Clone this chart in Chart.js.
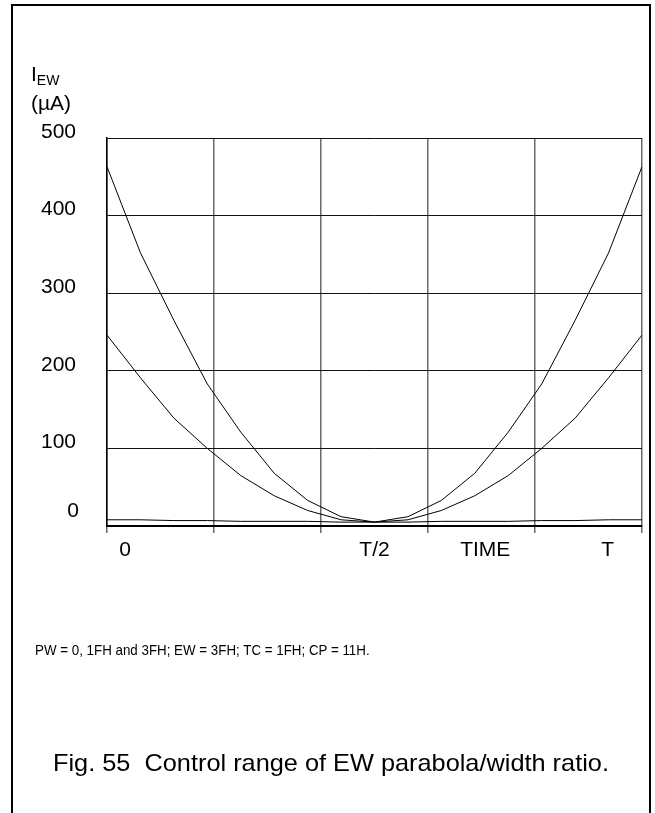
<!DOCTYPE html>
<html>
<head>
<meta charset="utf-8">
<script src="https://cdn.jsdelivr.net/npm/chart.js@4/dist/chart.umd.min.js"></script>
<style>
  html, body { margin: 0; padding: 0; background: #fff; }
  body { width: 655px; height: 813px; position: relative; overflow: hidden; font-family: "Liberation Sans", Arial, sans-serif; color: #000; }
  #frame { position: absolute; left: 11px; top: 4px; width: 640px; height: 900px; border: 2px solid #000; box-sizing: border-box; }
  #wrap { position: absolute; left: 0; top: 0; width: 655px; height: 813px; }
  .txt { position: absolute; white-space: nowrap; line-height: 1; transform-origin: 0 50%; }
  #ytitle1 { left: 31px; top: 63px; font-size: 21px; }
  #ytitle1 sub { font-size: 14px; vertical-align: baseline; position: relative; top: 4px; }
  #ytitle2 { left: 31px; top: 92px; font-size: 21px; }
  #note { left: 35px; top: 642px; font-size: 15px; transform: scaleX(0.89); }
  #caption { left: 53px; top: 751px; font-size: 24px; transform: scaleX(1.055); }
</style>
</head>
<body>
<div id="frame"></div>
<div id="wrap"><canvas id="c" width="655" height="813"></canvas></div>
<div class="txt" id="ytitle1">I<sub>EW</sub></div>
<div class="txt" id="ytitle2">(µA)</div>
<div class="txt" id="note">PW = 0, 1FH and 3FH; EW = 3FH; TC = 1FH; CP = 11H.</div>
<div class="txt" id="caption">Fig. 55&nbsp; Control range of EW parabola/width ratio.</div>
<script>
// Time samples, as a fraction of the period T
const timeFrac = [0, 0.0625, 0.125, 0.1875, 0.25, 0.3125, 0.375, 0.4375, 0.5,
                  0.5625, 0.625, 0.6875, 0.75, 0.8125, 0.875, 0.9375, 1];
// I_EW (µA) for the three PW settings
const iewPW3 = [463, 352, 265, 183, 121, 68, 33, 12, 5, 12, 33, 68, 121, 183, 265, 352, 463];
const iewPW1 = [246, 191, 139, 100, 65, 39, 20, 8, 5, 8, 20, 39, 65, 100, 139, 191, 246];
const iewPW0 = [8, 8, 7, 7, 6, 6, 6, 5, 5, 5, 6, 6, 6, 7, 7, 8, 8];
// Axis tick labels
const yTickValues = [0, 100, 200, 300, 400, 500];
const xTickLabels = ['0', 'T/2', 'TIME', 'T'];
const xTickAt = [0.034, 0.5, 0.707, 0.936];

function pts(ys) { return ys.map((y, i) => ({ x: timeFrac[i], y })); }

const tickLabelPlugin = {
  id: 'tickLabels',
  afterDraw(chart) {
    const ctx = chart.ctx;
    const xs = chart.scales.x, ys = chart.scales.y;
    ctx.save();
    ctx.fillStyle = '#000';
    ctx.font = '21px "Liberation Sans", Arial, sans-serif';
    ctx.textBaseline = 'middle';
    ctx.textAlign = 'right';
    yTickValues.forEach(v => {
      const py = ys.getPixelForValue(v) + (v === 0 ? -15 : -6);
      ctx.fillText(String(v), v === 0 ? 79 : 76, py);
    });
    ctx.textAlign = 'center';
    xTickLabels.forEach((t, i) => {
      ctx.fillText(t, xs.getPixelForValue(xTickAt[i]), ys.bottom + 24);
    });
    ctx.restore();
  }
};

const lineStyle = { borderColor: '#000', borderWidth: 1, pointRadius: 0, tension: 0, fill: false };

new Chart(document.getElementById('c'), {
  type: 'line',
  data: {
    datasets: [
      Object.assign({ label: 'PW = 3FH', data: pts(iewPW3) }, lineStyle),
      Object.assign({ label: 'PW = 1FH', data: pts(iewPW1) }, lineStyle),
      Object.assign({ label: 'PW = 0', data: pts(iewPW0) }, lineStyle)
    ]
  },
  options: {
    responsive: false,
    animation: false,
    devicePixelRatio: 1,
    layout: { padding: { left: 107, right: 13, top: 138, bottom: 280 } },
    plugins: { legend: { display: false }, tooltip: { enabled: false } },
    scales: {
      x: {
        type: 'linear', min: 0, max: 1,
        ticks: { display: false, stepSize: 0.2 },
        grid: { color: '#6a6a6a', lineWidth: 1.5, drawTicks: true, tickLength: 7 },
        border: { display: true, color: '#000', width: 2 }
      },
      y: {
        type: 'linear', min: 0, max: 500,
        ticks: { display: false, stepSize: 100 },
        grid: { color: '#111', lineWidth: 1, drawTicks: false },
        border: { display: true, color: '#000', width: 1.5 }
      }
    }
  },
  plugins: [tickLabelPlugin]
});
</script>
</body>
</html>
